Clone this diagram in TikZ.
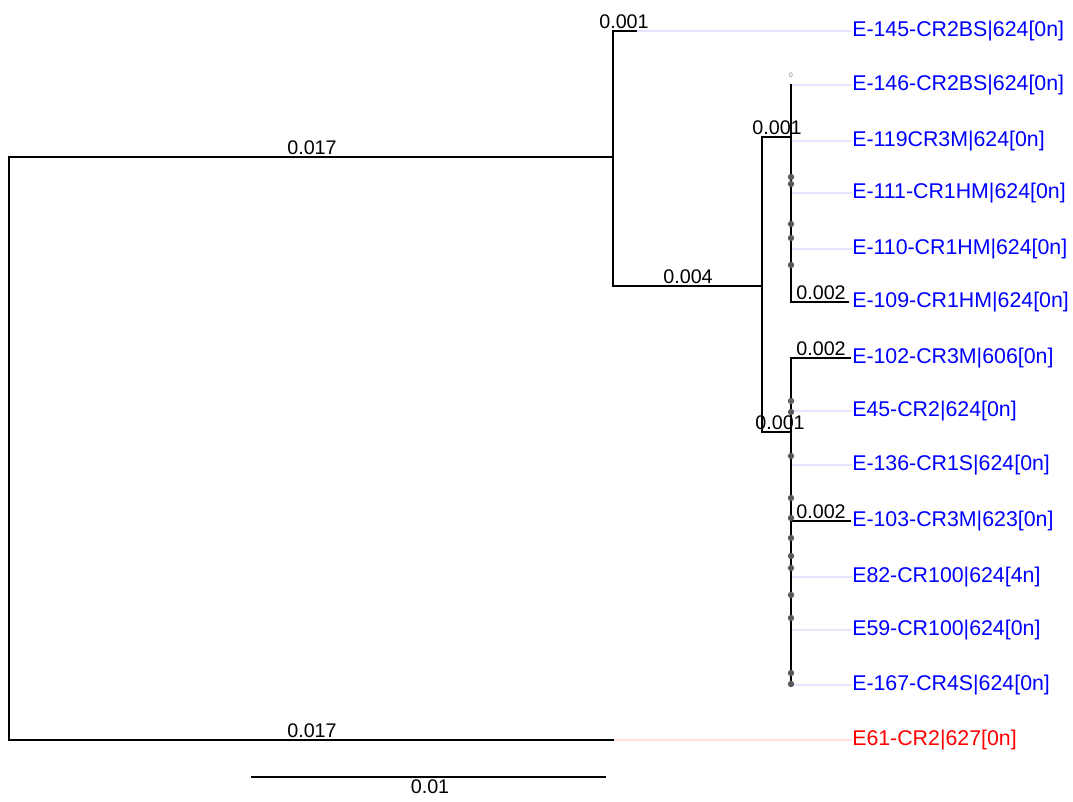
\documentclass[tikz,border=0pt]{standalone}
\usepackage{fontspec}
\setmainfont{Liberation Sans}
\usepackage{tikz}
\usetikzlibrary{positioning}

\begin{document}
\begin{tikzpicture}[
      x=0.75pt, y=-0.75pt,
      branch/.style={draw, line width=2pt, line cap=rect},
      guide/.style={draw, blue!10, line width=0.8pt},
      tip/.style={anchor=west, inner sep=0pt, text=blue, font=\fontsize{16}{19}\selectfont},
      blen/.style={above, inner sep=1.5pt, font=\fontsize{14.8}{17}\selectfont},
      zero/.style={font=\fontsize{5}{6}\selectfont, text=gray, inner sep=0pt},
      knot/.style={fill=black!65, draw=none}
    ]
    \useasboundingbox (0,0) rectangle (1073,801);

    % inner nodes of the tree
    \coordinate (root) at (9,448);
    \coordinate (n1) at (613,157);
    \coordinate (n2) at (762,286);
    \coordinate (n3) at (791,137);
    \coordinate (n4) at (791,432);

    % branch ends
    \coordinate (l145) at (636,31);
    \coordinate (l146) at (791,85);
    \coordinate (l119) at (791,141);
    \coordinate (l111) at (791,193);
    \coordinate (l110) at (791,249);
    \coordinate (l109) at (848,302);
    \coordinate (l102) at (850,358);
    \coordinate (l45) at (791,411);
    \coordinate (l136) at (791,465);
    \coordinate (l103) at (850,521);
    \coordinate (l82) at (791,577);
    \coordinate (l59) at (791,630);
    \coordinate (l167) at (791,685);
    \coordinate (l61) at (613,740);

    % tip labels
    \node[tip] (t145) at (852,31) {E-145-CR2BS|624[0n]};
    \node[tip] (t146) at (852,85) {E-146-CR2BS|624[0n]};
    \node[tip] (t119) at (852,141) {E-119CR3M|624[0n]};
    \node[tip] (t111) at (852,193) {E-111-CR1HM|624[0n]};
    \node[tip] (t110) at (852,249) {E-110-CR1HM|624[0n]};
    \node[tip] (t109) at (852,302) {E-109-CR1HM|624[0n]};
    \node[tip] (t102) at (852,358) {E-102-CR3M|606[0n]};
    \node[tip] (t45) at (852,411) {E45-CR2|624[0n]};
    \node[tip] (t136) at (852,465) {E-136-CR1S|624[0n]};
    \node[tip] (t103) at (852,521) {E-103-CR3M|623[0n]};
    \node[tip] (t82) at (852,577) {E82-CR100|624[4n]};
    \node[tip] (t59) at (852,630) {E59-CR100|624[0n]};
    \node[tip] (t167) at (852,685) {E-167-CR4S|624[0n]};
    \node[tip, text=red] (t61) at (852,740) {E61-CR2|627[0n]};

    \foreach \l in {145,146,119,111,110,45,136,82,59,167}
      \draw[guide] (l\l) -- (t\l.west);
    \draw[guide, red!12] (l61) -- (t61.west);

    % branches
    \draw[branch] (root) |- (n1);
    \draw[branch] (root) |- (l61);
    \draw[branch] (n1) |- (l145);
    \draw[branch] (n1) |- (n2);
    \draw[branch] (n2) |- (n3);
    \draw[branch] (n2) |- (n4);
    \foreach \l in {146,119,111,110,109}
      \draw[branch] (n3) |- (l\l);
    \foreach \l in {102,45,136,103,82,59,167}
      \draw[branch] (n4) |- (l\l);

    % collapsed node markers
    \foreach \y in {177,184,224,238,265,401,412,456,498,518,538,556,568,595,618,673,684}
      \fill[knot] (791,\y) circle[radius=2.4pt];
    \node[zero] (z146) at (791,75) {0};
    \node[zero] (z45) at (791,402) {0};

    % branch lengths
    \node[blen] (b1) at (312,157) {0.017};
    \node[blen] (b2) at (312,740) {0.017};
    \node[blen] (b3) at (624,31) {0.001};
    \node[blen] (b4) at (688,286) {0.004};
    \node[blen] (b5) at (777,137) {0.001};
    \node[blen] (b6) at (780,432) {0.001};
    \node[blen] (b7) at (821,302) {0.002};
    \node[blen] (b8) at (821,358) {0.002};
    \node[blen] (b9) at (821,521) {0.002};

    % scale bar
    \coordinate (s0) at (251,777);
    \coordinate (s1) at (606,777);
    \draw[line width=1.4pt] (s0) -- (s1);
    \node[below, inner sep=1.5pt, font=\fontsize{14.8}{17}\selectfont] (scale) at (430,777) {0.01};
\end{tikzpicture}
\end{document}
